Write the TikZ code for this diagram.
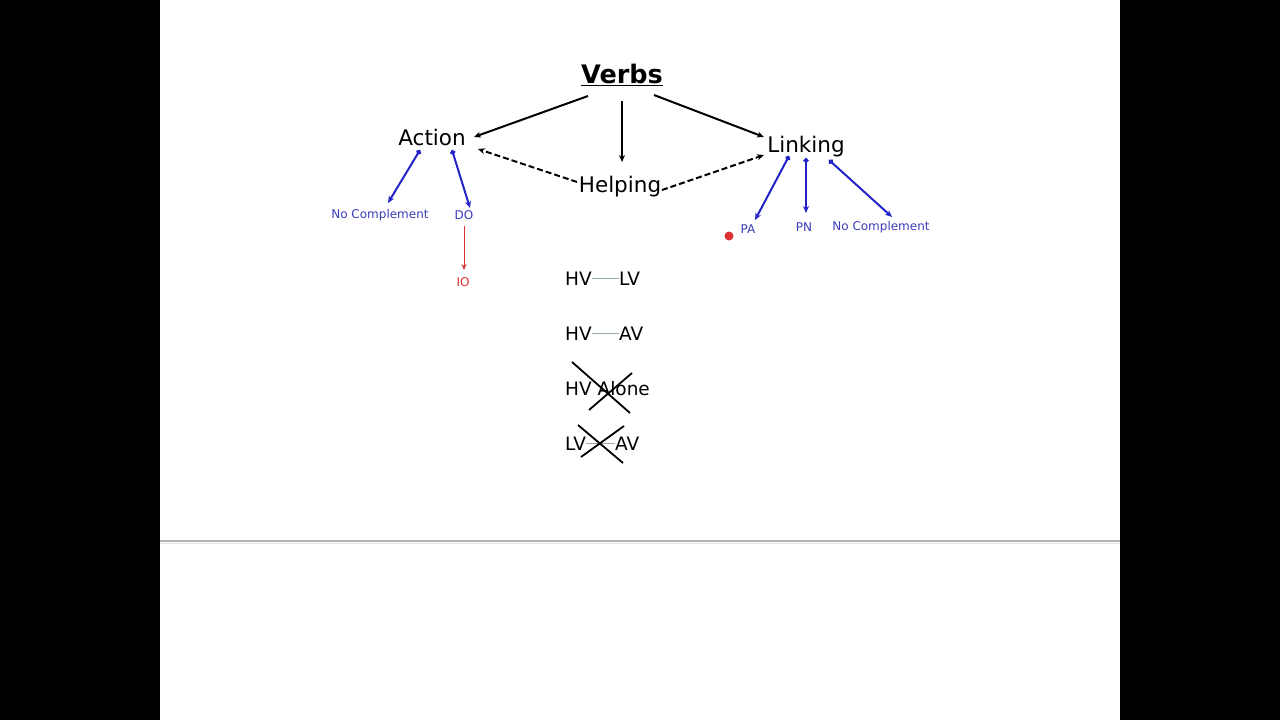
\documentclass[tikz,border=0pt]{standalone}
\usepackage{fontspec}
\setmainfont{DejaVu Sans}
\usetikzlibrary{arrows.meta,calc}
\definecolor{lineblue}{RGB}{35,35,200}
\definecolor{textblue}{RGB}{60,60,185}
\definecolor{myred}{RGB}{220,50,50}
\definecolor{thingray}{RGB}{150,170,170}
\begin{document}
\begin{tikzpicture}[x=1pt,y=-1pt,
  big/.style={inner sep=0pt, anchor=base, font=\fontsize{21.5}{24}\selectfont},
  hv/.style={inner sep=0pt, anchor=base west, font=\fontsize{18.5}{21}\selectfont},
  small/.style={inner sep=0pt, anchor=base, text=textblue, font=\fontsize{12}{14}\selectfont},
  arr/.style={line width=2pt, -{Stealth[length=7pt,width=6pt]}},
  darr/.style={arr, dash pattern=on 6pt off 3pt},
  barr/.style={line width=2pt, lineblue, {Circle[length=5pt]}-{Stealth[length=7pt,width=6pt]}},
  rarr/.style={line width=1pt, myred, -{Stealth[length=6pt,width=5pt]}},
  thin/.style={line width=0.7pt, thingray},
  crossline/.style={line width=1.8pt, black}
]
\useasboundingbox (0,0) rectangle (1280,720);
\fill[white] (0,0) rectangle (1280,720);
\fill[black] (0,0) rectangle (160,720);
\fill[black] (1120,0) rectangle (1280,720);
\draw[line width=1.6pt, black!30] (160,541) -- (1120,541);
\draw[line width=1.2pt, black!10] (160,543.5) -- (1120,543.5);

% main nodes
\node[inner sep=0pt, anchor=base, font=\bfseries\fontsize{25.5}{28}\selectfont] (verbs) at (622,83) {\underline{Verbs}};
\node[big] (action) at (432,145) {Action};
\node[big] (linking) at (806,152) {Linking};
\node[big] (helping) at (620,192) {Helping};

\node[small] (nc1) at (380,218) {No Complement};
\node[small] (do) at (464,219) {DO};
\node[small, text=myred] (io) at (463,286) {IO};
\node[small] (pa) at (748,233) {PA};
\node[small] (pn) at (804,231) {PN};
\node[small] (nc2) at (881,230) {No Complement};

% arrows from Verbs
\draw[arr] ([shift={(-34,13)}]verbs.base) -- ([shift={(42,-8)}]action.base);
\draw[arr] ([shift={(0,18)}]verbs.base) -- ([shift={(2,-30)}]helping.base);
\draw[arr] ([shift={(32,12)}]verbs.base) -- ([shift={(-42,-15)}]linking.base);
% dashed from Helping
\draw[darr] ([shift={(-43,-10)}]helping.base) -- ([shift={(46,4)}]action.base);
\draw[darr] ([shift={(42,-2)}]helping.base) -- ([shift={(-42,3)}]linking.base);

% blue from Action
\draw[barr] ([shift={(-12,5)}]action.base) -- ([shift={(8,-15)}]nc1.base);
\draw[barr] ([shift={(20,5)}]action.base) -- ([shift={(6,-11)}]do.base);
\draw[rarr] ([shift={(0,7)}]do.base) -- ([shift={(1,-16)}]io.base);

% blue from Linking
\draw[barr] ([shift={(-17,4)}]linking.base) -- ([shift={(7,-13)}]pa.base);
\draw[barr] ([shift={(0,6)}]linking.base) -- ([shift={(2,-18)}]pn.base);
\draw[barr] ([shift={(23,8)}]linking.base) -- ([shift={(11,-13)}]nc2.base);

\fill[myred] (729,236) circle (4.5);

% HV rows
\node[hv] (hv1) at (565,285) {HV};
\node[hv] (lv1) at (619,285) {LV};
\draw[thin] (hv1.east) -- (lv1.west);

\node[hv] (hv2) at (565,340) {HV};
\node[hv] (av2) at (619,340) {AV};
\draw[thin] (hv2.east) -- (av2.west);

\node[hv] (alone) at (565,395) {HV Alone};
\draw[crossline] ([shift={(7,-33)}]alone.base west) -- ([shift={(65,18)}]alone.base west);
\draw[crossline] ([shift={(24,15)}]alone.base west) -- ([shift={(67,-22)}]alone.base west);

\node[hv] (lv4) at (565,450) {LV};
\node[hv] (av4) at (615,450) {AV};
\draw[thin] (lv4.east) -- (av4.west);
\draw[crossline] ([shift={(13,-25)}]lv4.base west) -- ([shift={(58,13)}]lv4.base west);
\draw[crossline] ([shift={(16,7)}]lv4.base west) -- ([shift={(59,-24)}]lv4.base west);
\end{tikzpicture}
\end{document}
